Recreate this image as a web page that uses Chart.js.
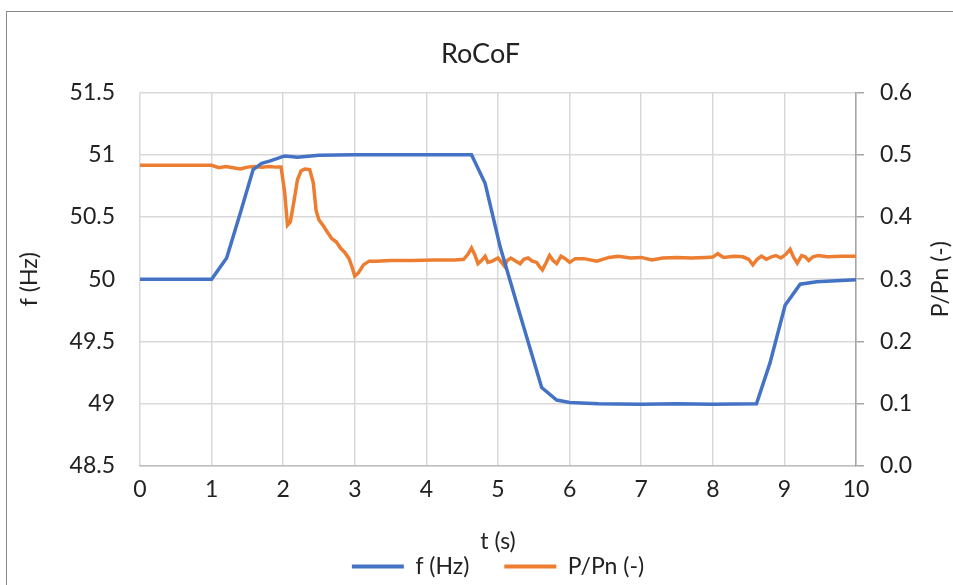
<!DOCTYPE html>
<html>
<head>
<meta charset="utf-8">
<script src="https://cdn.jsdelivr.net/npm/chart.js@4.4.1/dist/chart.umd.min.js"></script>
<style>
  html, body { margin: 0; padding: 0; background: #fff; overflow: hidden; }
  #wrap { position: relative; width: 953px; height: 585px; }
  #frame { position: absolute; left: 6px; top: 11px; width: 1200px; height: 800px;
           border-left: 1.5px solid #8a8a8a; border-top: 1.5px solid #8a8a8a; }
  #chart { position: absolute; left: 0; top: 0; }
</style>
</head>
<body>
<div id="wrap">
  <div id="frame"></div>
  <canvas id="chart" width="953" height="585"></canvas>
</div>
<script>
// frequency f (Hz) over time
const tF = [0, 0.5, 1.0, 1.21, 1.4, 1.58, 1.7, 1.82, 2.02, 2.2, 2.5, 3.0, 3.5, 4.0, 4.63, 4.82, 5.03, 5.3, 5.61, 5.82, 6.0, 6.4, 7.0, 7.5, 8.0, 8.61, 8.8, 9.01, 9.22, 9.45, 10];
const fHz = [50.0, 50.0, 50.0, 50.17, 50.53, 50.88, 50.93, 50.95, 50.99, 50.98, 50.995, 51.0, 51.0, 51.0, 51.0, 50.77, 50.26, 49.73, 49.13, 49.03, 49.01, 49.0, 48.995, 49.0, 48.995, 49.0, 49.33, 49.79, 49.96, 49.98, 49.995];

// active power P/Pn (-) over time
const tP = [0, 0.5, 1.0, 1.1, 1.2, 1.3, 1.4, 1.5, 1.6, 1.7, 1.8, 1.9, 1.97, 2.02, 2.06, 2.1, 2.15, 2.2, 2.25, 2.3, 2.37, 2.42, 2.46, 2.5, 2.56, 2.62, 2.68, 2.74, 2.8, 2.86, 2.92, 2.96, 3.0, 3.05, 3.12, 3.2, 3.3, 3.5, 3.8, 4.1, 4.4, 4.52, 4.58, 4.63, 4.68, 4.72, 4.77, 4.82, 4.86, 4.92, 5.0, 5.05, 5.09, 5.13, 5.18, 5.25, 5.31, 5.36, 5.42, 5.48, 5.54, 5.58, 5.62, 5.67, 5.72, 5.77, 5.82, 5.88, 5.94, 6.0, 6.08, 6.2, 6.38, 6.55, 6.68, 6.85, 7.0, 7.15, 7.3, 7.5, 7.7, 7.9, 8.0, 8.07, 8.15, 8.3, 8.42, 8.5, 8.56, 8.62, 8.68, 8.75, 8.82, 8.88, 8.95, 9.02, 9.08, 9.13, 9.18, 9.24, 9.29, 9.34, 9.4, 9.47, 9.6, 9.8, 10];
const pPn = [0.483, 0.483, 0.483, 0.479, 0.481, 0.479, 0.477, 0.480, 0.481, 0.480, 0.481, 0.480, 0.480, 0.44, 0.387, 0.392, 0.425, 0.46, 0.474, 0.477, 0.476, 0.455, 0.41, 0.395, 0.386, 0.375, 0.365, 0.36, 0.35, 0.343, 0.333, 0.32, 0.305, 0.31, 0.323, 0.329, 0.329, 0.330, 0.330, 0.331, 0.331, 0.332, 0.34, 0.35, 0.338, 0.325, 0.33, 0.337, 0.327, 0.329, 0.334, 0.327, 0.321, 0.33, 0.334, 0.329, 0.325, 0.332, 0.334, 0.329, 0.327, 0.32, 0.315, 0.326, 0.338, 0.33, 0.325, 0.337, 0.333, 0.327, 0.333, 0.333, 0.329, 0.335, 0.337, 0.334, 0.335, 0.331, 0.334, 0.335, 0.334, 0.335, 0.3355, 0.341, 0.335, 0.337, 0.336, 0.332, 0.323, 0.332, 0.337, 0.332, 0.336, 0.338, 0.334, 0.340, 0.348, 0.335, 0.326, 0.338, 0.336, 0.330, 0.336, 0.338, 0.336, 0.337, 0.337];

const FONT = 'Lato';
const TXT = '#222';
const FS = 23;

function pts(xs, ys) {
  return xs.map((x, i) => ({ x: x, y: ys[i] }));
}

// right axis title reads bottom-to-top like the left one
const rightTitle = {
  id: 'rightTitle',
  afterDraw(chart) {
    const ctx = chart.ctx;
    const a = chart.chartArea;
    ctx.save();
    ctx.translate(941, (a.top + a.bottom) / 2);
    ctx.rotate(-Math.PI / 2);
    ctx.font = FS + 'px ' + FONT;
    ctx.fillStyle = TXT;
    ctx.textAlign = 'center';
    ctx.textBaseline = 'middle';
    ctx.fillText('P/Pn (-)', 0, 0);
    ctx.restore();
  }
};

const config = {
  type: 'scatter',
  data: {
    datasets: [{
      label: 'f (Hz)',
      data: pts(tF, fHz),
      yAxisID: 'y',
      showLine: true,
      borderColor: '#4472C4',
      backgroundColor: '#4472C4',
      borderWidth: 3.5,
      pointRadius: 0,
      tension: 0
    }, {
      label: 'P/Pn (-)',
      data: pts(tP, pPn),
      yAxisID: 'y1',
      showLine: true,
      borderColor: '#ED7D31',
      backgroundColor: '#ED7D31',
      borderWidth: 3.5,
      pointRadius: 0,
      tension: 0
    }]
  },
  options: {
    responsive: false,
    animation: false,
    layout: { padding: { left: 8, top: 12, right: 0, bottom: -3 } },
    plugins: {
      tooltip: { enabled: false },
      title: {
        display: true,
        text: 'RoCoF',
        color: TXT,
        font: { family: FONT, size: 27, weight: 'normal' },
        padding: { top: 26, bottom: 22 }
      },
      legend: {
        position: 'bottom',
        fullSize: false,
        labels: {
          color: TXT,
          font: { family: FONT, size: FS },
          boxWidth: 52,
          boxHeight: 4,
          padding: 35,
          generateLabels(chart) {
            const items = Chart.defaults.plugins.legend.labels.generateLabels(chart);
            items.forEach(it => { it.lineWidth = 0; it.fillStyle = it.strokeStyle; });
            return items;
          }
        }
      }
    },
    scales: {
      x: {
        type: 'linear',
        min: 0, max: 10,
        ticks: { stepSize: 1, color: TXT, font: { family: FONT, size: FS }, padding: 10 },
        grid: { color: '#d9d9d9', lineWidth: 1.5, drawTicks: false },
        border: { color: '#bfbfbf', width: 1.5 },
        title: { display: true, text: 't (s)', color: TXT, font: { family: FONT, size: FS }, padding: { top: 0, bottom: -35 } },
        afterFit(s) { s.height = 54; }
      },
      y: {
        position: 'left',
        min: 48.5, max: 51.5,
        ticks: { stepSize: 0.5, color: TXT, font: { family: FONT, size: FS }, padding: 25, callback: v => String(v) },
        grid: { color: '#d9d9d9', lineWidth: 1.5, drawTicks: false },
        border: { display: false },
        title: { display: true, text: 'f (Hz)', color: TXT, font: { family: FONT, size: FS }, padding: { top: 8, bottom: 0 } },
        afterFit(s) { s.width = 132; }
      },
      y1: {
        position: 'right',
        min: 0, max: 0.6,
        ticks: {
          stepSize: 0.1, color: TXT, font: { family: FONT, size: FS }, padding: 16,
          callback: v => v.toFixed(1)
        },
        grid: { drawOnChartArea: false, drawTicks: true, tickLength: 8, color: '#a6a6a6', lineWidth: 1.5 },
        border: { color: '#a6a6a6', width: 1.5 },
        afterFit(s) { s.width = 97; }
      }
    }
  },
  plugins: [rightTitle]
};

new Chart(document.querySelector('#chart'), config);
</script>
</body>
</html>
